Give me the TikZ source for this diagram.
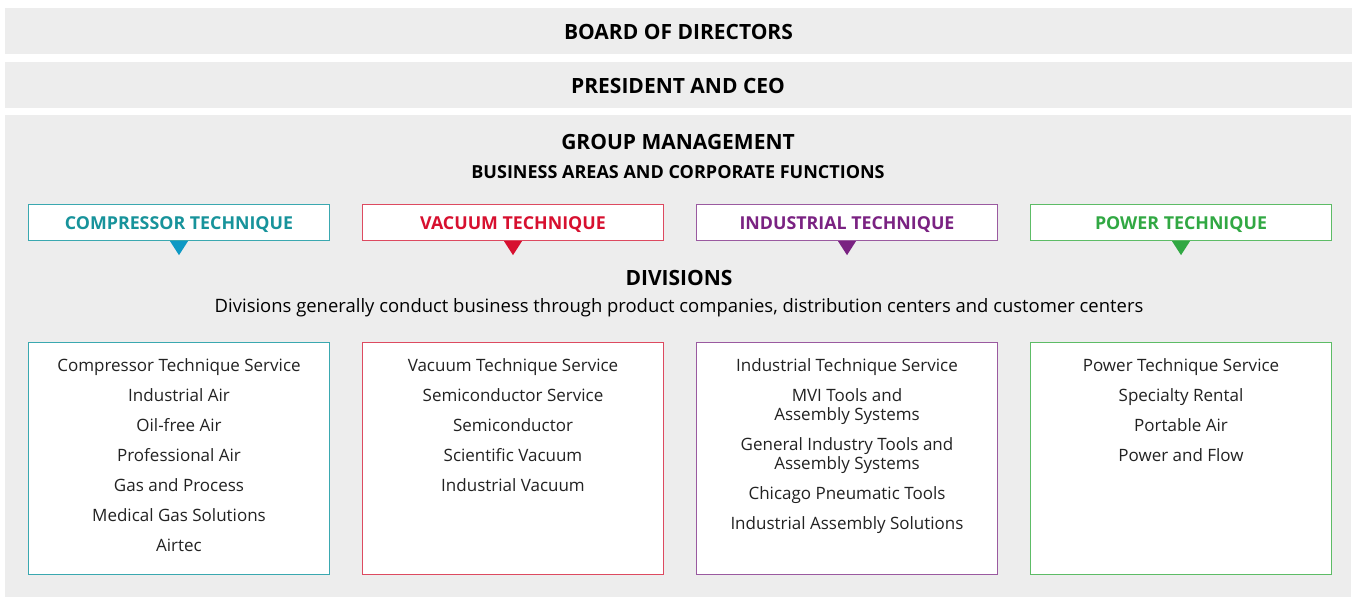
\documentclass[tikz,border=0pt]{standalone}
\usepackage{fontspec}
\setmainfont{Open Sans}
\definecolor{bg}{HTML}{EDEDED}
\definecolor{ctc}{HTML}{17939B}
\definecolor{ctb}{HTML}{3AA8B0}
\definecolor{ctt}{HTML}{0E99C4}
\definecolor{vtc}{HTML}{D7102F}
\definecolor{vtb}{HTML}{DD4A60}
\definecolor{itc}{HTML}{7A2282}
\definecolor{itb}{HTML}{9A5AA0}
\definecolor{ptc}{HTML}{31A843}
\definecolor{ptb}{HTML}{5DBC66}
\definecolor{txt}{HTML}{222222}
\tikzset{
  bar/.style={fill=bg, draw=none, minimum width=1347pt, minimum height=46pt, inner sep=0pt,
              text height=17pt, text depth=0pt,
              font=\fontsize{21}{24}\selectfont\bfseries, text=black},
  head/.style={inner sep=0pt, text=black, anchor=base},
  catbox/.style={fill=white, draw=#1, line width=1.3pt, minimum width=301pt, minimum height=36pt,
                 inner sep=0pt, text height=13.8pt, text depth=0pt},
  cattext/.style={text=#1, font=\fontsize{17.8}{20}\selectfont\bfseries},
  divbox/.style={fill=white, draw=#1, line width=1.3pt, minimum width=301pt, minimum height=232pt,
                 inner sep=0pt},
  divtext/.style={anchor=north, inner sep=0pt, align=center, text=txt,
                  font=\fontsize{17}{19}\selectfont},
}
\begin{document}
\begin{tikzpicture}[x=1pt,y=-1pt]
\useasboundingbox (0,0) rectangle (1354,597);
\fill[white] (0,0) rectangle (1354,597);
\node[bar] (board) at (678.5,31) {BOARD OF DIRECTORS};
\node[bar] (ceo) at (678,85) {PRESIDENT AND CEO};
\fill[bg] (5,115) rectangle (1351,597);
\node[head, font=\fontsize{21}{24}\selectfont\bfseries] (gm) at (678,149.5) {GROUP MANAGEMENT};
\node[head, font=\fontsize{18}{21}\selectfont\bfseries] (ba) at (678,178.4) {BUSINESS AREAS AND CORPORATE FUNCTIONS};
% business areas
\node[catbox=ctb, cattext=ctc] (ct) at (179,222.5) {COMPRESSOR TECHNIQUE};
\node[catbox=vtb, cattext=vtc] (vt) at (513,222.5) {VACUUM TECHNIQUE};
\node[catbox=itb, cattext=itc] (it) at (847,222.5) {INDUSTRIAL TECHNIQUE};
\node[catbox=ptb, cattext=ptc] (pt) at (1181,222.5) {POWER TECHNIQUE};
\fill[ctt] (ct.south) ++(-9,0) -- ++(18,0) -- ++(-9,14) -- cycle;
\fill[vtc] (vt.south) ++(-9,0) -- ++(18,0) -- ++(-9,14) -- cycle;
\fill[itc] (it.south) ++(-9,0) -- ++(18,0) -- ++(-9,14) -- cycle;
\fill[ptc] (pt.south) ++(-9,0) -- ++(18,0) -- ++(-9,14) -- cycle;
% divisions heading
\node[head, font=\fontsize{21}{24}\selectfont\bfseries] (div) at (679,285.5) {DIVISIONS};
\node[head, font=\fontsize{18.45}{21}\selectfont] (desc) at (679,312.4) {Divisions generally conduct business through product companies, distribution centers and customer centers};
% division boxes
\node[divbox=ctb] (cd) at (179,458.5) {};
\node[divbox=vtb] (vd) at (513,458.5) {};
\node[divbox=itb] (id) at (847,458.5) {};
\node[divbox=ptb] (pd) at (1181,458.5) {};
\node[divtext] (cl) at (179,358.5) {Compressor Technique Service\\[11pt]Industrial Air\\[11pt]Oil-free Air\\[11pt]Professional Air\\[11pt]Gas and Process\\[11pt]Medical Gas Solutions\\[11pt]Airtec};
\node[divtext] (vl) at (513,358.5) {Vacuum Technique Service\\[11pt]Semiconductor Service\\[11pt]Semiconductor\\[11pt]Scientific Vacuum\\[11pt]Industrial Vacuum};
\node[divtext] (il) at (847,358.5) {Industrial Technique Service\\[11pt]MVI Tools and\\Assembly Systems\\[11pt]General Industry Tools and\\Assembly Systems\\[11pt]Chicago Pneumatic Tools\\[11pt]Industrial Assembly Solutions};
\node[divtext] (pl) at (1181,358.5) {Power Technique Service\\[11pt]Specialty Rental\\[11pt]Portable Air\\[11pt]Power and Flow};
\end{tikzpicture}
\end{document}
